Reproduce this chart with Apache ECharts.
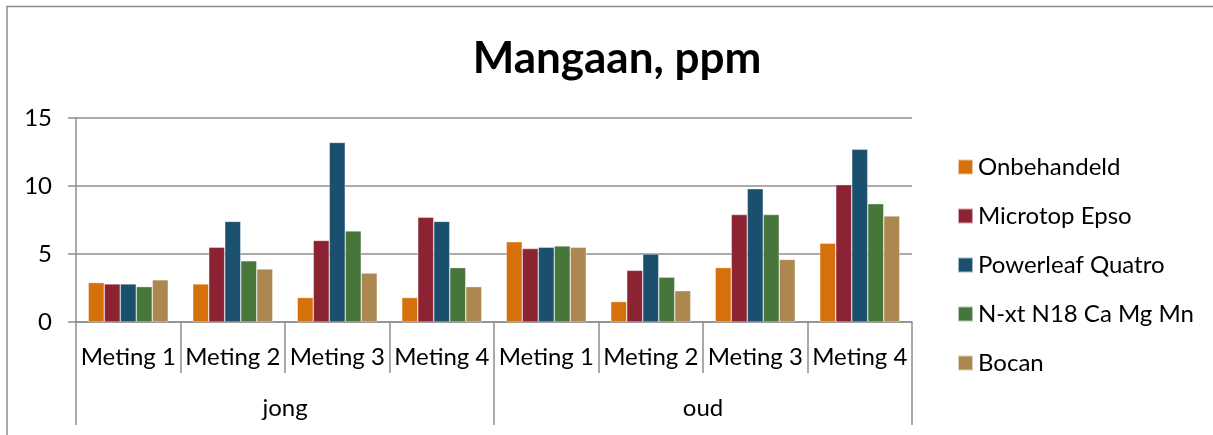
<!DOCTYPE html>
<html>
<head>
<meta charset="utf-8">
<script src="https://cdn.jsdelivr.net/npm/echarts@6/dist/echarts.min.js"></script>
<style>
  html, body { margin: 0; padding: 0; background: #fff; }
  #chart { width: 1213px; height: 435px; }
</style>
</head>
<body>
<div id="chart"></div>
<script>
// metingen per groep (jong / oud)
var categories = ['Meting 1', 'Meting 2', 'Meting 3', 'Meting 4', 'Meting 1', 'Meting 2', 'Meting 3', 'Meting 4'];
var groups = ['jong', 'oud'];
var yTicks = [0, 5, 10, 15];

var onbehandeld = [2.9, 2.8, 1.8, 1.8, 5.9, 1.5, 4.0, 5.8];
var microtopEpso = [2.8, 5.5, 6.0, 7.7, 5.4, 3.8, 7.9, 10.1];
var powerleafQuatro = [2.8, 7.4, 13.2, 7.4, 5.5, 5.0, 9.8, 12.7];
var nxtN18 = [2.6, 4.5, 6.7, 4.0, 5.6, 3.3, 7.9, 8.7];
var bocan = [3.1, 3.9, 3.6, 2.6, 5.5, 2.3, 4.6, 7.8];

var seriesNames = ['Onbehandeld', 'Microtop Epso', 'Powerleaf Quatro', 'N-xt N18 Ca Mg Mn', 'Bocan'];
var seriesData = [onbehandeld, microtopEpso, powerleafQuatro, nxtN18, bocan];
var colors = ['#D5700A', '#8C2332', '#1A4F6E', '#46763A', '#AC874F'];

var font = 'Lato, "Noto Sans", sans-serif';
var lineColor = '#8f8f8f';

var chart = echarts.init(document.getElementById('chart'));

var series = [];
for (var i = 0; i < seriesNames.length; i++) {
    series.push({
        name: seriesNames[i],
        type: 'bar',
        data: seriesData[i],
        barWidth: 16,
        barGap: '0%',
        itemStyle: {
            color: colors[i],
            borderColor: 'rgba(255,255,255,0.6)',
            borderWidth: 0.6
        }
    });
}

var option = {
    animation: false,
    color: colors,
    title: {
        text: 'Mangaan, ppm',
        left: 612,
        textAlign: 'center',
        top: 32,
        textStyle: { fontFamily: font, fontWeight: 'bold', fontSize: 44, color: '#000' }
    },
    legend: {
        orient: 'vertical',
        left: 952,
        top: 150,
        itemWidth: 15,
        itemHeight: 15,
        itemGap: 25,
        icon: 'rect',
        textStyle: { fontFamily: font, fontSize: 24, lineHeight: 24, color: '#000', padding: [0, 0, 0, 0] },
        data: seriesNames
    },
    grid: { left: 76, right: 301, top: 118, bottom: 113 },
    xAxis: [{
        type: 'category',
        data: categories,
        axisLine: { lineStyle: { color: lineColor, width: 1.5 } },
        axisTick: { show: true, interval: 0, length: 51, lineStyle: { color: lineColor, width: 1.5 } },
        axisLabel: { fontFamily: font, fontSize: 24, color: '#000', margin: 23, interval: 0 }
    }, {
        type: 'category',
        data: groups,
        position: 'bottom',
        axisLine: { show: false },
        axisTick: { show: true, interval: 0, length: 103, lineStyle: { color: lineColor, width: 1.5 } },
        axisLabel: { fontFamily: font, fontSize: 24, color: '#000', margin: 74 }
    }],
    yAxis: {
        type: 'value',
        min: yTicks[0],
        max: yTicks[yTicks.length - 1],
        interval: 5,
        axisLine: { show: true, lineStyle: { color: lineColor, width: 1.5 } },
        axisTick: { show: true, length: 8, lineStyle: { color: lineColor, width: 1.5 } },
        axisLabel: { fontFamily: font, fontSize: 24, color: '#000', margin: 24 },
        splitLine: { lineStyle: { color: lineColor, width: 1.5 } }
    },
    graphic: [{
        type: 'polyline',
        shape: { points: [[7, 435], [7, 6.5], [1213, 6.5]] },
        style: { stroke: '#8a8a8a', lineWidth: 1.5, fill: null }
    }],
    series: series
};

chart.setOption(option);
</script>
</body>
</html>
